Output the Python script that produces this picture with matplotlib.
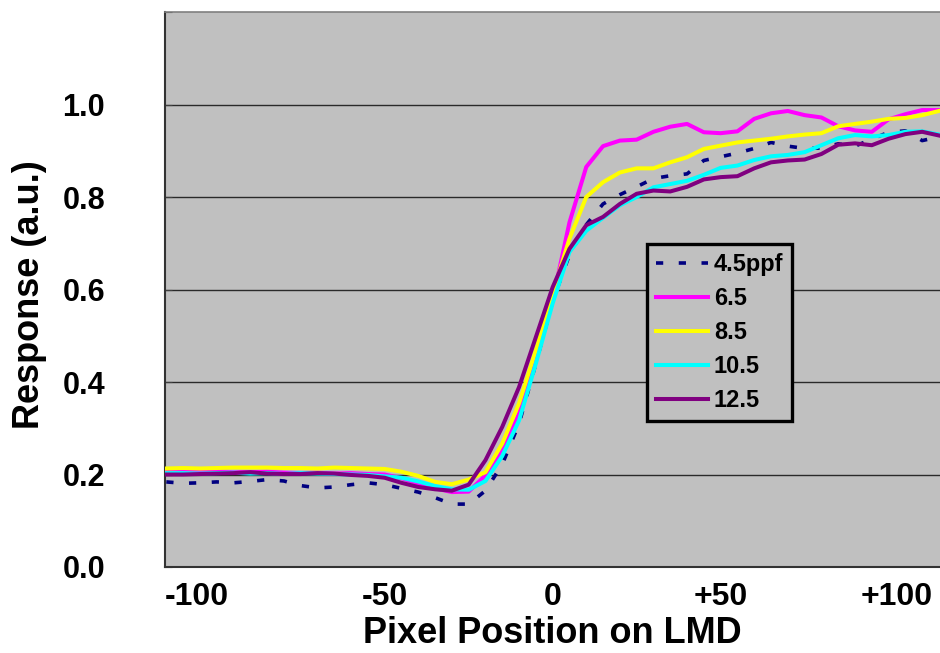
import numpy as np
import matplotlib
matplotlib.use("Agg")
from matplotlib import pyplot as plt
from matplotlib.transforms import ScaledTranslation

plt.rcParams['font.family'] = ['Liberation Sans', 'DejaVu Sans']
plt.rcParams['font.weight'] = 'bold'

# pixel position on the LMD, sampled every 5
pixel_pos = np.arange(-115, 116, 5)

ppf_4_5 = [0.184, 0.181, 0.182, 0.184, 0.182, 0.185, 0.189, 0.186, 0.176, 0.171, 0.173, 0.178, 0.182, 0.178,
           0.170, 0.162, 0.150, 0.136, 0.136, 0.165, 0.222, 0.310, 0.440, 0.575,
           0.675, 0.740, 0.785, 0.805, 0.822, 0.840, 0.846, 0.850, 0.879, 0.887, 0.895, 0.905,
           0.918, 0.910, 0.905, 0.906, 0.915, 0.910, 0.925, 0.940, 0.943, 0.922, 0.930]
ppf_6_5 = [0.207, 0.207, 0.206, 0.207, 0.205, 0.205, 0.206, 0.204, 0.203, 0.204, 0.202, 0.203, 0.201, 0.200,
           0.192, 0.180, 0.170, 0.162, 0.163, 0.198, 0.253, 0.332, 0.454, 0.577,
           0.745, 0.865, 0.910, 0.922, 0.924, 0.941, 0.952, 0.958, 0.940, 0.938, 0.942, 0.969,
           0.981, 0.986, 0.977, 0.972, 0.953, 0.944, 0.941, 0.968, 0.979, 0.988, 0.988]
ppf_8_5 = [0.213, 0.214, 0.213, 0.214, 0.215, 0.215, 0.215, 0.214, 0.214, 0.213, 0.215, 0.214, 0.213, 0.212,
           0.206, 0.197, 0.184, 0.179, 0.189, 0.205, 0.267, 0.354, 0.469, 0.591,
           0.710, 0.800, 0.832, 0.853, 0.862, 0.862, 0.875, 0.886, 0.904, 0.911, 0.918, 0.922,
           0.926, 0.931, 0.935, 0.938, 0.953, 0.958, 0.963, 0.969, 0.971, 0.977, 0.986]
ppf_10_5 = [0.203, 0.203, 0.202, 0.203, 0.204, 0.202, 0.203, 0.201, 0.203, 0.202, 0.201, 0.200, 0.199, 0.196,
            0.193, 0.185, 0.175, 0.168, 0.167, 0.186, 0.240, 0.317, 0.440, 0.570,
            0.681, 0.727, 0.755, 0.782, 0.800, 0.821, 0.828, 0.835, 0.848, 0.863, 0.868, 0.880,
            0.888, 0.891, 0.897, 0.912, 0.927, 0.934, 0.931, 0.934, 0.941, 0.942, 0.935]
ppf_12_5 = [0.200, 0.200, 0.201, 0.202, 0.203, 0.205, 0.202, 0.201, 0.201, 0.203, 0.202, 0.199, 0.197, 0.193,
            0.182, 0.173, 0.168, 0.165, 0.178, 0.231, 0.303, 0.389, 0.497, 0.605,
            0.688, 0.739, 0.757, 0.785, 0.807, 0.814, 0.812, 0.822, 0.838, 0.843, 0.845, 0.862,
            0.875, 0.879, 0.881, 0.893, 0.913, 0.916, 0.912, 0.926, 0.936, 0.941, 0.933]

series_names = ['4.5ppf', '6.5', '8.5', '10.5', '12.5']
series_colors = ['#000080', '#FF00FF', '#FFFF00', '#00FFFF', '#800080']

x_ticks = [-100, -50, 0, 50, 100]
x_tick_labels = ['-100', '-50', '0', '+50', '+100']
y_ticks = [0.0, 0.2, 0.4, 0.6, 0.8, 1.0]

fig = plt.figure(figsize=(9.4, 6.53), dpi=100)
ax = fig.add_axes([0.1755, 0.1317, 0.8245, 0.8499])
ax.set_facecolor('#C0C0C0')

for yv in y_ticks[1:]:
    ax.axhline(yv, color='#2a2a2a', lw=1.0, zorder=1)

for vals, name, color in zip([ppf_4_5, ppf_6_5, ppf_8_5, ppf_10_5, ppf_12_5],
                             series_names, series_colors):
    if name == '4.5ppf':
        ax.plot(pixel_pos, vals, color=color, lw=2.6, dashes=(2.0, 4.3), label=name, zorder=3)
    else:
        ax.plot(pixel_pos, vals, color=color, lw=2.9, label=name, zorder=3,
                solid_joinstyle='round')

ax.set_xlim(-115.4, 115.3)
ax.set_ylim(0, 1.2)

ax.set_xticks(x_ticks)
ax.set_xticklabels(x_tick_labels, fontsize=23, fontweight='bold')
ax.tick_params(axis='x', length=0, pad=11)
ax.set_xticks([0], minor=True)
ax.tick_params(axis='x', which='minor', direction='in', length=4, color='#404040')

# end labels sit a little outside their category in the original
tl = ax.get_xticklabels()
tl[0].set_transform(tl[0].get_transform() + ScaledTranslation(-14 / 72, 0, fig.dpi_scale_trans))
tl[-1].set_transform(tl[-1].get_transform() + ScaledTranslation(6 / 72, 0, fig.dpi_scale_trans))

ax.set_yticks(y_ticks + [1.2])
ax.set_yticklabels(['%.1f' % v for v in y_ticks] + [''], fontsize=22, fontweight='bold')
ax.tick_params(axis='y', direction='in', length=5, pad=43, color='#404040')

ax.set_xlabel('Pixel Position on LMD', fontsize=26, fontweight='bold')
ax.xaxis.set_label_coords(0.5, -0.088)
ax.xaxis.label.set_va('top')
ax.set_ylabel('Response (a.u.)', fontsize=26, fontweight='bold')
ax.yaxis.set_label_coords(-0.152, 0.49)

ax.spines['right'].set_visible(False)
ax.spines['top'].set_color('#808080')
ax.spines['top'].set_linewidth(1.2)
ax.spines['left'].set_color('#333333')
ax.spines['left'].set_linewidth(1.5)
ax.spines['bottom'].set_color('#333333')
ax.spines['bottom'].set_linewidth(1.5)

leg = ax.legend(loc='upper left', bbox_to_anchor=(0.622, 0.582),
                prop={'size': 17, 'weight': 'bold'},
                handlelength=2.2, handletextpad=0.25, labelspacing=0.47,
                borderpad=0.38, borderaxespad=0, fancybox=False,
                facecolor='#C0C0C0', framealpha=1, edgecolor='black')
leg.get_frame().set_linewidth(2.4)
leg.set_zorder(5)

fig.savefig('out.png', dpi=100)
